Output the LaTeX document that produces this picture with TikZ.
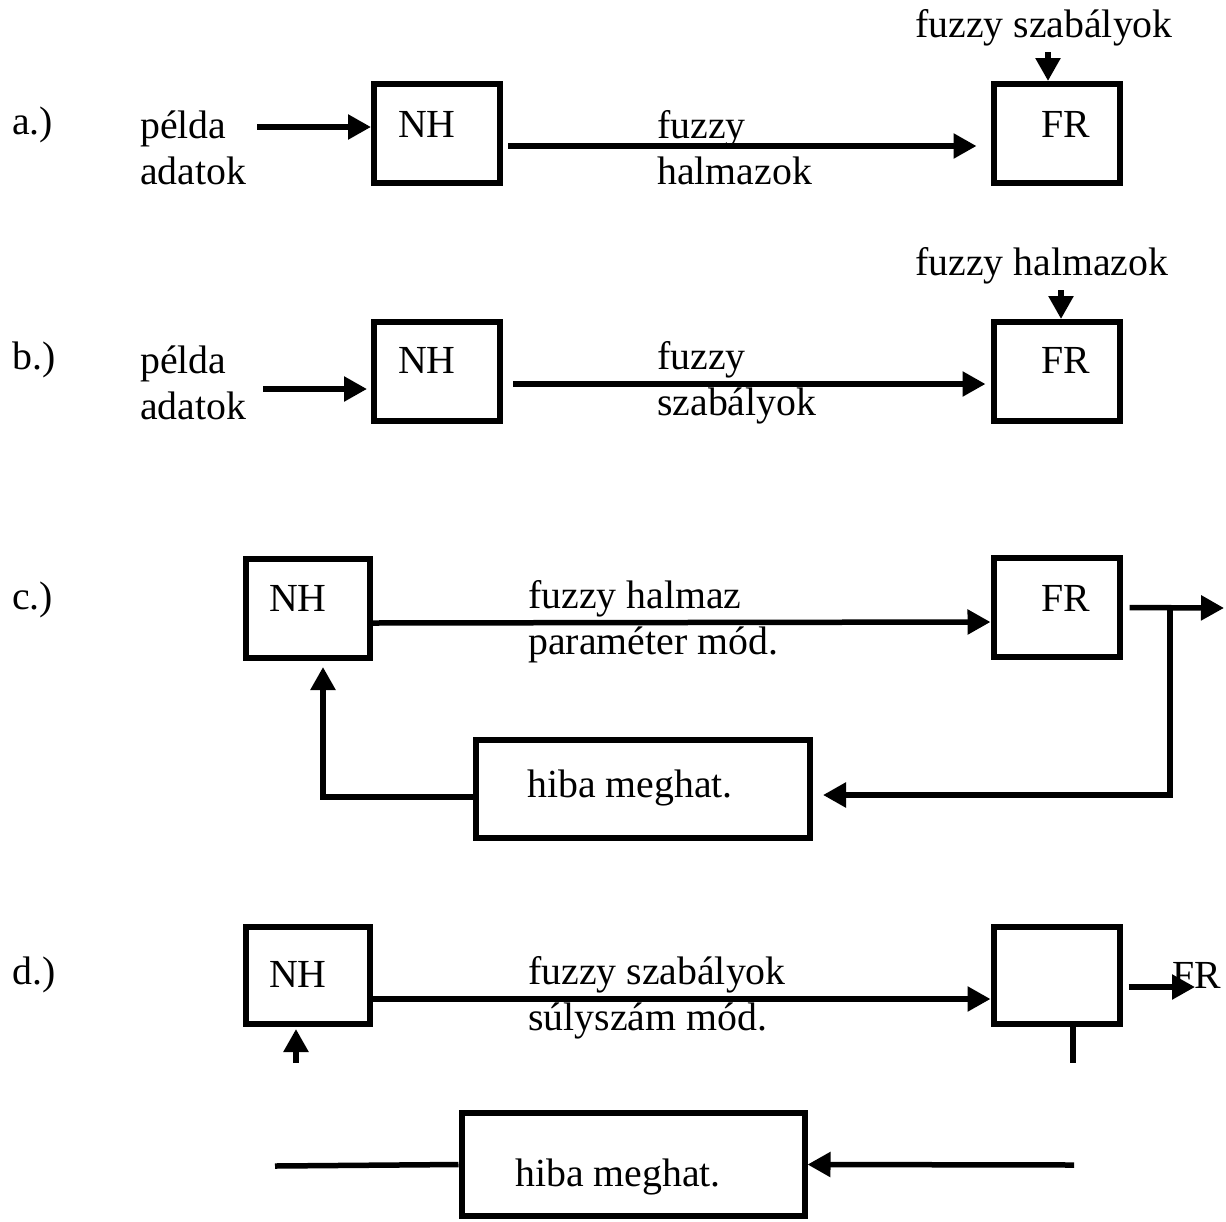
\documentclass[tikz,border=0pt]{standalone}
\usepackage{fontspec}
\setmainfont{Liberation Serif}
\usetikzlibrary{arrows.meta}

\begin{document}
\begin{tikzpicture}[x=1pt, y=-1pt,
  blk/.style={draw, line width=6pt, inner sep=0pt, minimum width=126pt, minimum height=99pt},
  lbl/.style={inner sep=0pt, font=\fontsize{39.8}{46}\selectfont, align=left},
  arr/.style={line width=5.5pt, -{Triangle[length=23pt,width=24pt]}},
  ln/.style={line width=5.5pt}]
  \useasboundingbox (0,0) rectangle (1226,1221);

  % a.)
  \node[lbl, anchor=west] (taga) at (12,125) {a.)};
  \node[lbl, anchor=west] (pda) at (140,148) {példa\\adatok};
  \node[blk] (nha) at (437,133.5) {};
  \node[lbl] (nhta) at (427,124) {NH};
  \node[blk] (fra) at (1056.5,133.5) {};
  \node[lbl] (frta) at (1066,124) {FR};
  \node[lbl, anchor=west] (fha) at (657,148) {fuzzy\\halmazok};
  \node[lbl, anchor=west] (fsa) at (915,28) {fuzzy szabályok};
  \coordinate (ina) at (257,127);
  \coordinate (topa) at (1048,52);
  \draw[arr] (ina) -- (ina -| nha.west);
  \draw[arr, shorten <=5pt, shorten >=14pt] ([yshift=-12.5pt]nha.east) -- ([yshift=-12.5pt]fra.west);
  \draw[arr] (topa) -- (topa |- fra.north);

  % b.)
  \node[lbl, anchor=west] (tagb) at (12,360) {b.)};
  \node[lbl, anchor=west] (pdb) at (140,383) {példa\\adatok};
  \node[blk] (nhb) at (437,371.5) {};
  \node[lbl] (nhtb) at (427,360) {NH};
  \node[blk] (frb) at (1056.5,371.5) {};
  \node[lbl] (frtb) at (1066,360) {FR};
  \node[lbl, anchor=west] (fsb) at (657,383) {fuzzy\\szabályok};
  \node[lbl, anchor=west] (fhb) at (915,266) {fuzzy halmazok};
  \coordinate (inb) at (263,389);
  \coordinate (topb) at (1061,290);
  \draw[arr, shorten >=4pt] (inb) -- (inb -| nhb.west);
  \draw[arr, shorten <=10pt, shorten >=5pt] ([yshift=-12.5pt]nhb.east) -- ([yshift=-12.5pt]frb.west);
  \draw[arr] (topb) -- (topb |- frb.north);

  % c.)
  \node[lbl, anchor=west] (tagc) at (12,600) {c.)};
  \node[blk, minimum width=124pt] (nhc) at (308,608.5) {};
  \node[lbl] (nhtc) at (298,598) {NH};
  \node[blk] (frc) at (1056.5,607.5) {};
  \node[lbl] (frtc) at (1066,598) {FR};
  \node[lbl, anchor=west] (fpc) at (528,622) {fuzzy halmaz\\paraméter mód.};
  \node[blk, minimum width=334pt, minimum height=98pt] (hibc) at (643,789) {};
  \node[lbl] (hibtc) at (630,788) {hiba meghat.};
  \coordinate (outc) at (1224,608);
  \coordinate (brc) at (1170,608);
  \draw[arr] ([yshift=-14.5pt]nhc.east) -- ([yshift=-14.5pt]frc.west);
  \draw[arr, shorten <=7pt] (frc.east) -- (outc);
  \draw[arr, shorten >=10pt] (brc) |- ([yshift=-6pt]hibc.east);
  \draw[arr, shorten >=6pt] ([yshift=-8pt]hibc.west) -| ([xshift=15pt]nhc.south);

  % d.)
  \node[lbl, anchor=west] (tagd) at (12,975) {d.)};
  \node[blk, minimum width=124pt, minimum height=97pt] (nhd) at (308,975.5) {};
  \node[lbl] (nhtd) at (298,974) {NH};
  \node[blk, minimum height=97pt] (frd) at (1056.5,975.5) {};
  \node[lbl] (frtd) at (1197,975) {FR};
  \node[lbl, anchor=west] (fsd) at (528,998) {fuzzy szabályok\\súlyszám mód.};
  \node[blk, minimum width=343pt, minimum height=103pt] (hibd) at (633,1164.5) {};
  \node[lbl] (hibtd) at (618,1177) {hiba meghat.};
  \coordinate (outd) at (1195,987);
  \coordinate (upd) at (296,1063);
  \coordinate (stubd) at (1073,1063);
  \coordinate (ld) at (275,1166);
  \coordinate (rd) at (1074,1165);
  \draw[arr] ([yshift=-23.5pt]nhd.east) -- ([yshift=-23.5pt]frd.west);
  \draw[arr, shorten <=6pt] (frd.east |- outd) -- (outd);
  \draw[arr, shorten >=2pt] (upd) -- (upd |- nhd.south);
  \draw[ln] (stubd |- frd.south) -- (stubd);
  \draw[ln] (hibd.west) -- (ld);
  \draw[arr] (rd) -- (hibd.east);
\end{tikzpicture}
\end{document}
